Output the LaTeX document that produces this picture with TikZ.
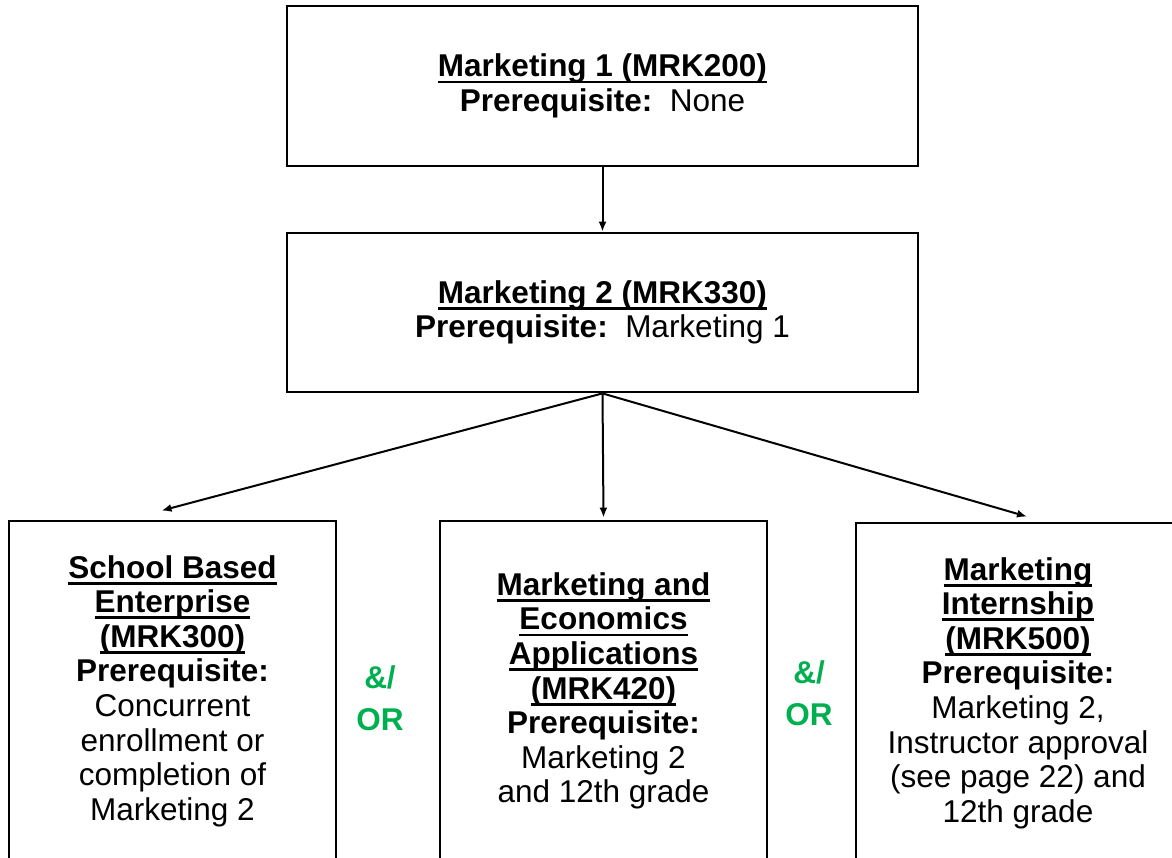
\documentclass[tikz,border=0pt]{standalone}
\usepackage{fontspec}
\setmainfont{Liberation Sans}
\usetikzlibrary{arrows.meta, positioning}
\definecolor{orgreen}{RGB}{0,176,80}
\newcommand{\ulhead}[1]{\setbox0\hbox{\textbf{#1}}\rlap{\rule[-6.5pt]{\wd0}{2.8pt}}\box0}

\begin{document}
\begin{tikzpicture}[x=1pt, y=-1pt,
    font=\fontsize{31.5}{34.6}\selectfont,
    box/.style={draw, line width=2.8pt, align=center, inner sep=0pt},
    course/.style={box, minimum width=327, minimum height=340},
    andor/.style={text=orgreen, align=center, font=\bfseries\fontsize{31.5}{42}\selectfont},
    flow/.style={-{Latex[length=10pt,width=8pt]}, line width=2pt}]

\useasboundingbox (0,0) rectangle (1172,858);

\node[box,
    minimum width=631,
    minimum height=160] (mrka) at (602.5,86)
    {\ulhead{Marketing 1 (MRK200)}\\ \textbf{Prerequisite:}\ \ None};

\node[box,
    minimum width=631,
    minimum height=159] (mrkb) at (602.5,312.5)
    {\ulhead{Marketing 2 (MRK330)}\\ \textbf{Prerequisite:}\ \ Marketing 1};

\node[course] (sbe) at (172.5,691)
    {\ulhead{School Based}\\ \ulhead{Enterprise}\\ \ulhead{(MRK300)}\\
     \textbf{Prerequisite:}\\ Concurrent\\ enrollment or\\ completion of\\ Marketing 2};

\node[course] (mea) at (603.5,691)
    {\ulhead{Marketing and}\\ \ulhead{Economics}\\ \ulhead{Applications}\\ \ulhead{(MRK420)}\\
     \textbf{Prerequisite:}\\ Marketing 2\\ and 12th grade};

\node[course, minimum width=324] (intern) at (1018,693)
    {\ulhead{Marketing}\\ \ulhead{Internship}\\ \ulhead{(MRK500)}\\
     \textbf{Prerequisite:}\\ Marketing 2,\\ Instructor approval\\ (see page 22) and\\ 12th grade};

\node[andor] (ora) at (380,698) {\&/\\OR};
\node[andor] (orb) at (809,693) {\&/\\OR};

% Arrows
\draw[flow] (mrka) -- (mrkb);
\draw[flow] (mrkb.south) -- ([shift={(-11,-9)}]sbe.north);
\draw[flow] (mrkb.south) -- ([shift={(0,-2)}]mea.north);
\draw[flow] (mrkb.south) -- ([shift={(9,-5)}]intern.north);
\end{tikzpicture}
\end{document}
